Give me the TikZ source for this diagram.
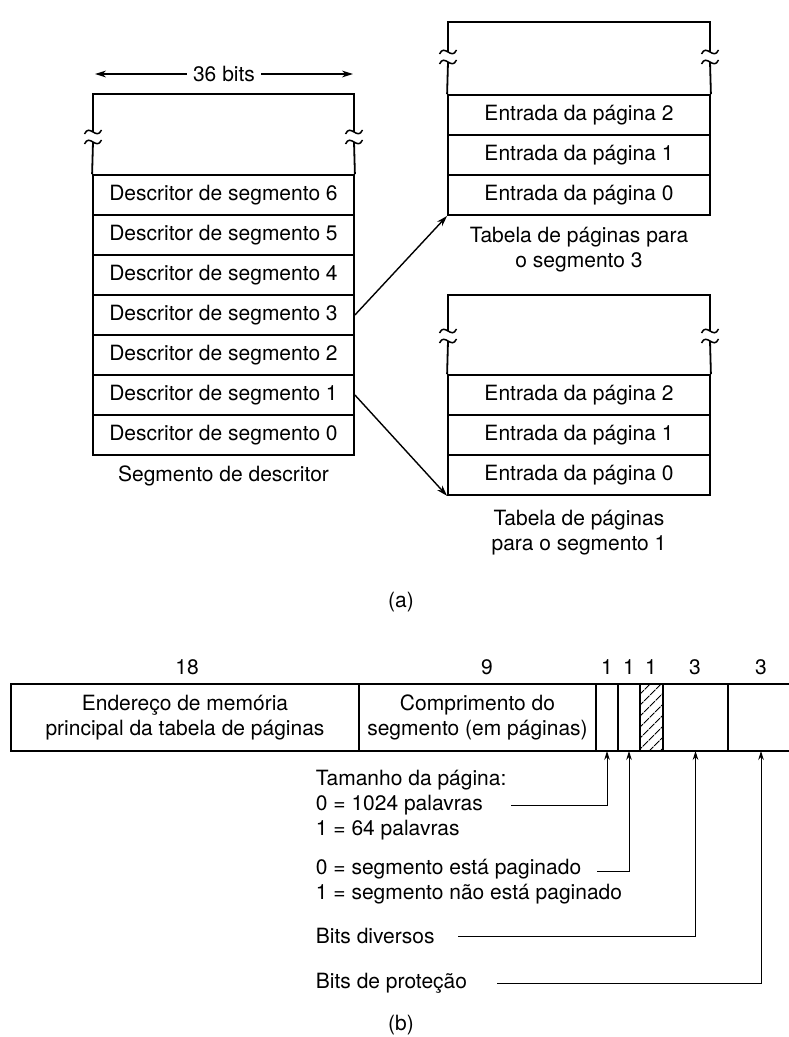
\documentclass[tikz,border=0pt]{standalone}
\usepackage{fontspec}
\setmainfont{TeX Gyre Heros}
\usetikzlibrary{arrows.meta,positioning,patterns.meta}

% wavy break mark on a table side
\newcommand{\brk}[2]{\draw[line width=.75pt] (#1-8.5,#2+2) .. controls (#1-3.5,#2-9) and (#1+3.5,#2+9) .. (#1+8.5,#2-2);}

\begin{document}
\begin{tikzpicture}[
  x=0.5pt,y=-0.5pt,
  line width=.9pt,
  font=\fontsize{10.5}{12.6}\selectfont,
  desc/.style={draw,minimum width=130.5pt,minimum height=20pt,inner sep=0pt},
  entry/.style={draw,minimum width=131pt,minimum height=20pt,inner sep=0pt},
  field/.style={minimum height=33.5pt,inner sep=0pt,outer sep=0pt,align=center},
  arr/.style={-{Stealth[length=5.5pt,width=3.4pt]},line width=.7pt},
  dbl/.style={{Stealth[length=5.5pt,width=3.4pt]}-{Stealth[length=5.5pt,width=3.4pt]},line width=.7pt},
  tick/.style={-{Stealth[length=4.5pt,width=2.8pt]},line width=.5pt},
  note/.style={anchor=west,align=left,inner sep=0pt}
]
\useasboundingbox (0,0) rectangle (788,1037);

% (a) descriptor segment
\foreach \i [count=\k from 0] in {6,5,4,3,2,1,0}
  \node[desc] (d\i) at (223.5,195+40*\k) {Descritor de segmento \i};
\draw (d6.north west) -- (93,142) (93,132) -- (93,94) -- (354,94) -- (354,132) (354,142) -- (d6.north east);
\brk{93}{132} \brk{93}{142} \brk{354}{132} \brk{354}{142}
\coordinate (wl) at (95,74);
\coordinate (wr) at (353,74);
\draw[dbl] (wl) -- (wr) node[midway,fill=white,inner sep=3pt] (bits) {36 bits};
\node (dcap) at (223.5,476) {Segmento de descritor};

% page tables
\foreach \i [count=\k from 0] in {2,1,0} {
  \node[entry] (p\i) at (579,115+40*\k) {Entrada da página \i};
  \node[entry] (q\i) at (579,395+40*\k) {Entrada da página \i};
}
\draw (p2.north west) -- (448,62) (448,52) -- (448,22) -- (710,22) -- (710,52) (710,62) -- (p2.north east);
\brk{448}{52} \brk{448}{62} \brk{710}{52} \brk{710}{62}
\draw (q2.north west) -- (448,341) (448,331) -- (448,295) -- (710,295) -- (710,331) (710,341) -- (q2.north east);
\brk{448}{331} \brk{448}{341} \brk{710}{331} \brk{710}{341}
\node[align=center] (pcap) at (579,250) {Tabela de páginas para\\o segmento 3};
\node[align=center] (qcap) at (579,533) {Tabela de páginas\\para o segmento 1};

\draw[arr] (d3.east) -- (p0.south west);
\draw[arr] (d1.east) -- (q0.south west);

\node (capa) at (401,602) {(a)};

% (b) descriptor word
\node[field,draw,minimum width=174pt] (f18) at (185,717.5) {Endereço de memória\\principal da tabela de páginas};
\node[field,draw,minimum width=118.5pt,right=0pt of f18] (f9) {Comprimento do\\segmento (em páginas)};
\node[field,draw,minimum width=11pt,right=0pt of f9] (fa) {};
\node[field,draw,minimum width=11pt,right=0pt of fa] (fb) {};
\node[field,draw,minimum width=11.5pt,right=0pt of fb,pattern={Lines[angle=45,distance=4pt,line width=.5pt]}] (fc) {};
\node[field,draw,minimum width=32.5pt,right=0pt of fc] (fd) {};
\node[field,minimum width=33pt,right=0pt of fd] (fe) {};
\draw (fe.north west) -- (fe.north east) (fe.south west) -- (fe.south east);

\node (n18) at (187,667) {18};
\node (n9) at (487,667) {9};
\node (na) at (607,667) {1};
\node (nb) at (629,667) {1};
\node (nc) at (651,667) {1};
\node (nd) at (695,667) {3};
\node (ne) at (761,667) {3};

\node[note] (tam) at (315,805) {Tamanho da página:\\0 = 1024 palavras\\1 = 64 palavras};
\node[note] (pag) at (315,882) {0 = segmento está paginado\\1 = segmento não está paginado};
\node[note] (div) at (315,936) {Bits diversos};
\node[note] (pro) at (315,983) {Bits de proteção};

\coordinate (ta) at (511,805);
\coordinate (tb) at (597,871);
\coordinate (td) at (458,936);
\coordinate (te) at (497,983);
\draw[tick] (ta) -| (fa);
\draw[tick] (tb) -| (fb);
\draw[tick] (td) -| (fd);
\draw[tick] (te) -| (fe);

\node (capb) at (401,1025) {(b)};
\end{tikzpicture}
\end{document}
